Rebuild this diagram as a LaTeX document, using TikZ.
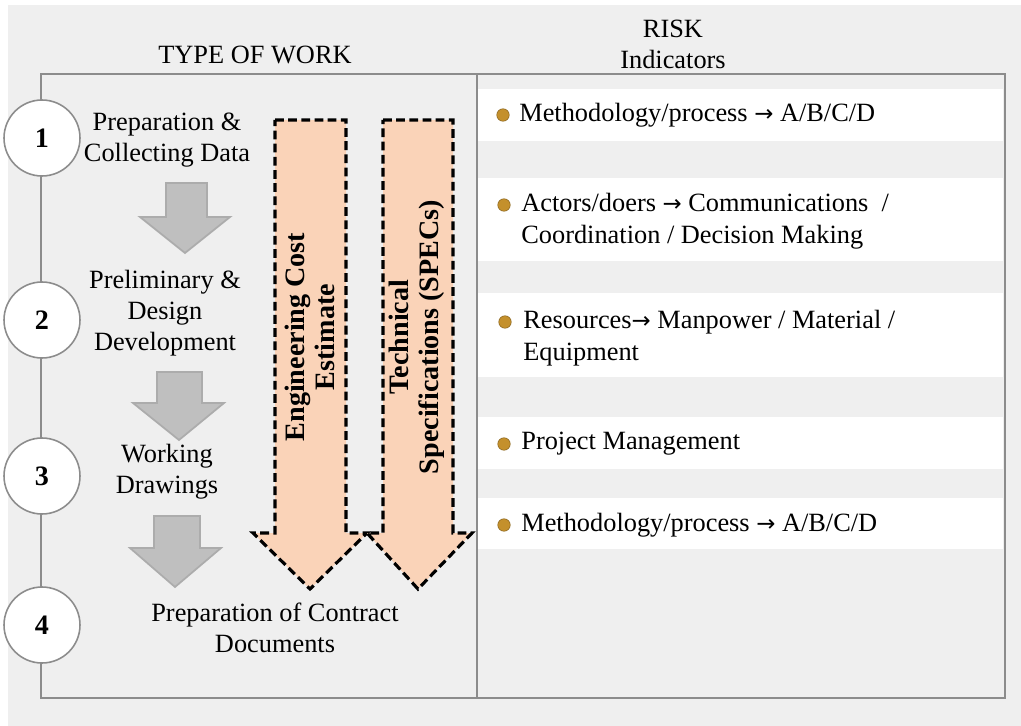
\documentclass[tikz,border=0pt]{standalone}
\usepackage{fontspec}
\setmainfont{Liberation Serif}
\newfontfamily\arrowfont{DejaVu Sans}
\newcommand{\toarr}{{\arrowfont\fontsize{13}{15}\selectfont →}}
\definecolor{bggray}{RGB}{239,239,239}
\definecolor{framegray}{RGB}{140,140,140}
\definecolor{peach}{RGB}{250,211,184}
\definecolor{stepgray}{RGB}{191,191,191}
\definecolor{steprim}{RGB}{172,172,172}
\definecolor{gold}{RGB}{196,144,44}

\tikzset{
	txt/.style={font=\fontsize{15}{17.6}\selectfont, align=center, inner sep=0pt},
	rtxt/.style={font=\fontsize{15}{18.5}\selectfont, align=left, anchor=west, inner sep=0pt},
	num/.style={circle, draw=framegray, fill=white, line width=0.9pt, minimum size=1.52cm, inner sep=0pt, font=\fontsize{16}{18}\selectfont\bfseries},
	bul/.style={circle, fill=gold, draw=gold!70!black, line width=0.3pt, minimum size=0.25cm, inner sep=0pt},
	grayarrow/.style={fill=stepgray, draw=steprim, line width=1pt, line join=miter},
	peacharrow/.style={fill=peach, draw=black, line width=1.8pt, dash pattern=on 5pt off 2.5pt, line join=miter},
	vtxt/.style={font=\fontsize{16}{17}\selectfont\bfseries, align=center, inner sep=0pt, rotate=90}
}

\begin{document}
\begin{tikzpicture}[x=0.02cm,y=-0.02cm]
	\useasboundingbox (0,0) rectangle (1021,726);
	\fill [bggray] (8,5) rectangle (1021,726);
	
	% headings
	\node [txt] (tow) at (255,55) {TYPE OF WORK};
	\node [txt] (risk) at (673,44) {RISK\\Indicators};
	
	% white bands on the right
	\fill [white] (478,89) rectangle (1003,141);
	\fill [white] (478,178) rectangle (1003,261);
	\fill [white] (478,293) rectangle (1003,377);
	\fill [white] (478,417) rectangle (1003,469);
	\fill [white] (478,498) rectangle (1003,549);
	
	\draw [framegray, line width=1.1pt] (41,74) rectangle (1005,698);
	\draw [framegray, line width=1.1pt] (477,74) -- (477,698);
	
	% steps
	\node [num] (s1) at (42,138) {1};
	\node [num] (s2) at (42,320) {2};
	\node [num] (s3) at (42,476) {3};
	\node [num] (s4) at (42,625) {4};
	
	\node [txt] (prep) at (167,140) {Preparation \&\\Collecting Data};
	\node [txt] (prel) at (165,313) {Preliminary \&\\Design\\Development};
	\node [txt] (work) at (167,472) {Working\\Drawings};
	\node [txt] (cont) at (275,628) {Preparation of Contract\\Documents};
	
	\draw [grayarrow] (166,183) -- (207,183) -- (207,217) -- (230,217) -- (185,253) -- (140,217) -- (166,217) -- cycle;
	\draw [grayarrow] (157,372) -- (202,372) -- (202,403) -- (224,403) -- (179,440) -- (133,403) -- (157,403) -- cycle;
	\draw [grayarrow] (154,516) -- (200,516) -- (200,548) -- (221,548) -- (175,587) -- (130,548) -- (154,548) -- cycle;
	
	% long dashed arrows
	\draw [peacharrow] (275,120) -- (346,120) -- (346,533) -- (367,533) -- (310,589) -- (253,533) -- (275,533) -- cycle;
	\draw [peacharrow] (383,120) -- (453,120) -- (453,533) -- (472,533) -- (418,589) -- (367,533) -- (383,533) -- cycle;
	\node [vtxt] (ece) at (310,337) {Engineering Cost\\Estimate};
	\node [vtxt] (spec) at (417,337) {Technical\\Specifications (SPECs)};
	
	% risk indicators
	\node [bul] (b1) at (503,115) {};
	\node [bul] (b2) at (504,205) {};
	\node [bul] (b3) at (505,322) {};
	\node [bul] (b4) at (504,444) {};
	\node [bul] (b5) at (504,525) {};
	\node [rtxt] (r1) at (519,115) {Methodology/process \toarr{} A/B/C/D};
	\node [rtxt] (r2) at (521,221) {Actors/doers \toarr{} Communications~ /\\Coordination / Decision Making};
	\node [rtxt] (r3) at (523,338) {Resources\toarr{} Manpower / Material /\\Equipment};
	\node [rtxt] (r4) at (521,444) {Project Management};
	\node [rtxt] (r5) at (521,525) {Methodology/process \toarr{} A/B/C/D};
\end{tikzpicture}
\end{document}
